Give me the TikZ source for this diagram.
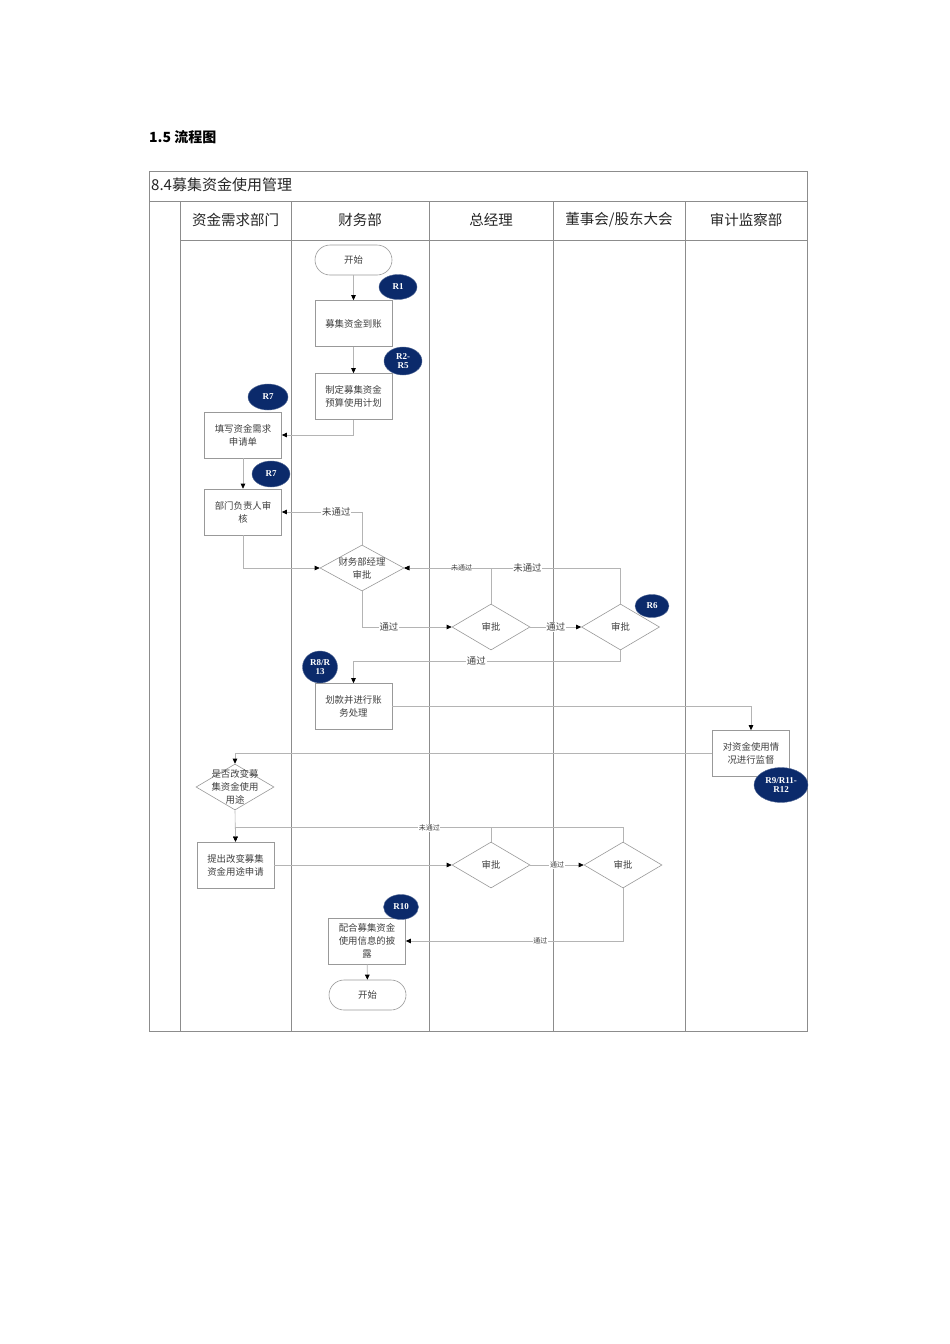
\documentclass[tikz,border=0pt]{standalone}
\usepackage{fontspec}
\newfontfamily\cjk{Noto Sans CJK SC}
\newfontfamily\rser{Liberation Serif}
\usetikzlibrary{shapes.geometric,arrows.meta}
\definecolor{navy}{HTML}{0B2A6B}
\definecolor{ln}{HTML}{B4B4B4}
\definecolor{bd}{HTML}{999999}
\definecolor{tb}{HTML}{8C8C8C}
\tikzset{
  box/.style={draw=bd, line width=0.6pt, minimum width=77pt, minimum height=46pt, align=center, inner sep=1pt,
    font=\cjk\fontsize{9.4}{13}\selectfont, text=black!75},
  term/.style={draw=bd, line width=0.6pt, rounded corners=15pt, minimum width=77pt, minimum height=30pt,
    font=\cjk\fontsize{9.4}{11}\selectfont, text=black!75},
  dia/.style={draw=bd, line width=0.6pt, diamond, inner sep=0pt, minimum width=78pt, minimum height=46pt},
  dtxt/.style={align=center, font=\cjk\fontsize{9.4}{13}\selectfont, text=black!75},
  tag/.style={ellipse, fill=navy, draw=navy!70, inner sep=0pt, text=white, align=center,
    font=\rser\bfseries\fontsize{9}{10.5}\selectfont},
  conn/.style={draw=ln, line width=0.6pt, -{Triangle[length=5pt,width=4.5pt,color=black]}},
  plain/.style={draw=ln, line width=0.6pt},
  lab/.style={fill=white, inner sep=0.8pt, font=\cjk\fontsize{9.4}{10}\selectfont, text=black!75},
  slab/.style={fill=white, inner sep=0.6pt, font=\cjk\fontsize{7}{8}\selectfont, text=black!75},
  hdr/.style={font=\cjk\fontsize{14.5}{16}\selectfont, text=black!85},
  tline/.style={draw=tb, line width=0.6pt}
}
\begin{document}
\begin{tikzpicture}[x=1pt,y=-1pt]
\useasboundingbox[fill=white] (0,0) rectangle (950,1344);

% page title
\node[anchor=west, font=\cjk\bfseries\fontsize{14}{16}\selectfont, inner sep=0pt] (pt) at (149,137) {1.5 流程图};

% table frame
\draw[tline] (149,171) rectangle (807,1031);
\draw[tline] (149,201) -- (807,201);
\draw[tline] (180,240) -- (807,240);
\foreach \x in {180,291,429,553,685}{\draw[tline] (\x,201) -- (\x,1031);}
\node[anchor=west, font=\cjk\fontsize{15}{17}\selectfont, inner sep=0pt, text=black!85] (tt) at (151,185) {8.4募集资金使用管理};

\node[hdr] (h1) at (235.5,220) {资金需求部门};
\node[hdr] (h2) at (360,220) {财务部};
\node[hdr] (h3) at (491,220) {总经理};
\node[hdr] (h4) at (619,220) {董事会/股东大会};
\node[hdr] (h5) at (746,220) {审计监察部};

% nodes
\node[term] (s1) at (353.5,260) {开始};
\node[box] (n1) at (353.5,323.5) {募集资金到账};
\node[box] (n2) at (353.5,396.5) {制定募集资金\\预算使用计划};
\node[box] (n3) at (243,435) {填写资金需求\\申请单};
\node[box] (n4) at (243,512) {部门负责人审\\核};
\node[dia, minimum width=84pt] (d1) at (362,568) {};
\node[dtxt] at (d1) {财务部经理\\审批};
\node[dia] (d2) at (491,627) {};
\node[dtxt] at (d2) {审批};
\node[dia] (d3) at (620.5,627) {};
\node[dtxt] at (d3) {审批};
\node[box] (n5) at (353.5,706.5) {划款并进行账\\务处理};
\node[box] (n6) at (751,753.5) {对资金使用情\\况进行监督};
\node[dia] (d4) at (235,787) {};
\node[dtxt] at (d4) {是否改变募\\集资金使用\\用途};
\node[box] (n7) at (235.5,865) {提出改变募集\\资金用途申请};
\node[dia] (d5) at (491,865) {};
\node[dtxt] at (d5) {审批};
\node[dia] (d6) at (623,865) {};
\node[dtxt] at (d6) {审批};
\node[box] (n8) at (367,941) {配合募集资金\\使用信息的披\\露};
\node[term] (s2) at (367.5,995) {开始};

% tags
\node[tag, minimum width=38pt, minimum height=25pt] (r1) at (398,287) {R1};
\node[tag, minimum width=38pt, minimum height=28pt] (r2) at (403,361) {R2-\\[-2pt]R5};
\node[tag, minimum width=40pt, minimum height=26pt] (r7a) at (268,397) {R7};
\node[tag, minimum width=38pt, minimum height=26pt] (r7b) at (271,474) {R7};
\node[tag, minimum width=34pt, minimum height=23pt] (r6) at (652,606) {R6};
\node[tag, minimum width=35pt, minimum height=32pt] (r8) at (320,667) {R8/R\\[-2pt]13};
\node[tag, minimum width=54pt, minimum height=35pt] (r9) at (781,785) {R9/R11-\\[-2pt]R12};
\node[tag, minimum width=35pt, minimum height=25pt] (r10) at (401,907) {R10};

% connectors
\draw[conn] (s1) -- (n1);
\draw[conn] (n1) -- (n2);
\draw[conn] (n2.south) |- (n3.east);
\draw[conn] (n3) -- (n4);
\draw[conn] (n4.south) |- (d1.west);
\draw[conn] (d1.north) |- node[lab, pos=0.66] {未通过} (n4.east);
\draw[conn] (d1.south) |- node[lab, pos=0.65] {通过} (d2.west);
\draw[conn] (d2.north) |- node[slab, pos=0.67] {未通过} (d1.east);
\draw[conn] (d3.north) |- node[lab, pos=0.715] {未通过} (d1.east);
\draw[conn] (d2.east) -- node[lab] {通过} (d3.west);
\draw[conn] (d3.south) -- ++(0,11) -| node[lab, pos=0.27] {通过} (n5.north);
\draw[conn] (n5.east) -| (n6.north);
\draw[conn] (n6.west) -| (d4.north);
\draw[conn] (d4.south) -- (n7.north);
\draw[plain] (d5.north) -- ++(0,-14);
\draw[conn] (d6.north) -- ++(0,-14) -| node[slab, pos=0.25] {未通过} (n7.north);
\draw[conn] (n7.east) -- (d5.west);
\draw[conn] (d5.east) -- node[slab] {通过} (d6.west);
\draw[conn] (d6.south) |- node[slab, pos=0.69] {通过} (n8.east);
\draw[conn] (n8) -- (s2);
\end{tikzpicture}
\end{document}
